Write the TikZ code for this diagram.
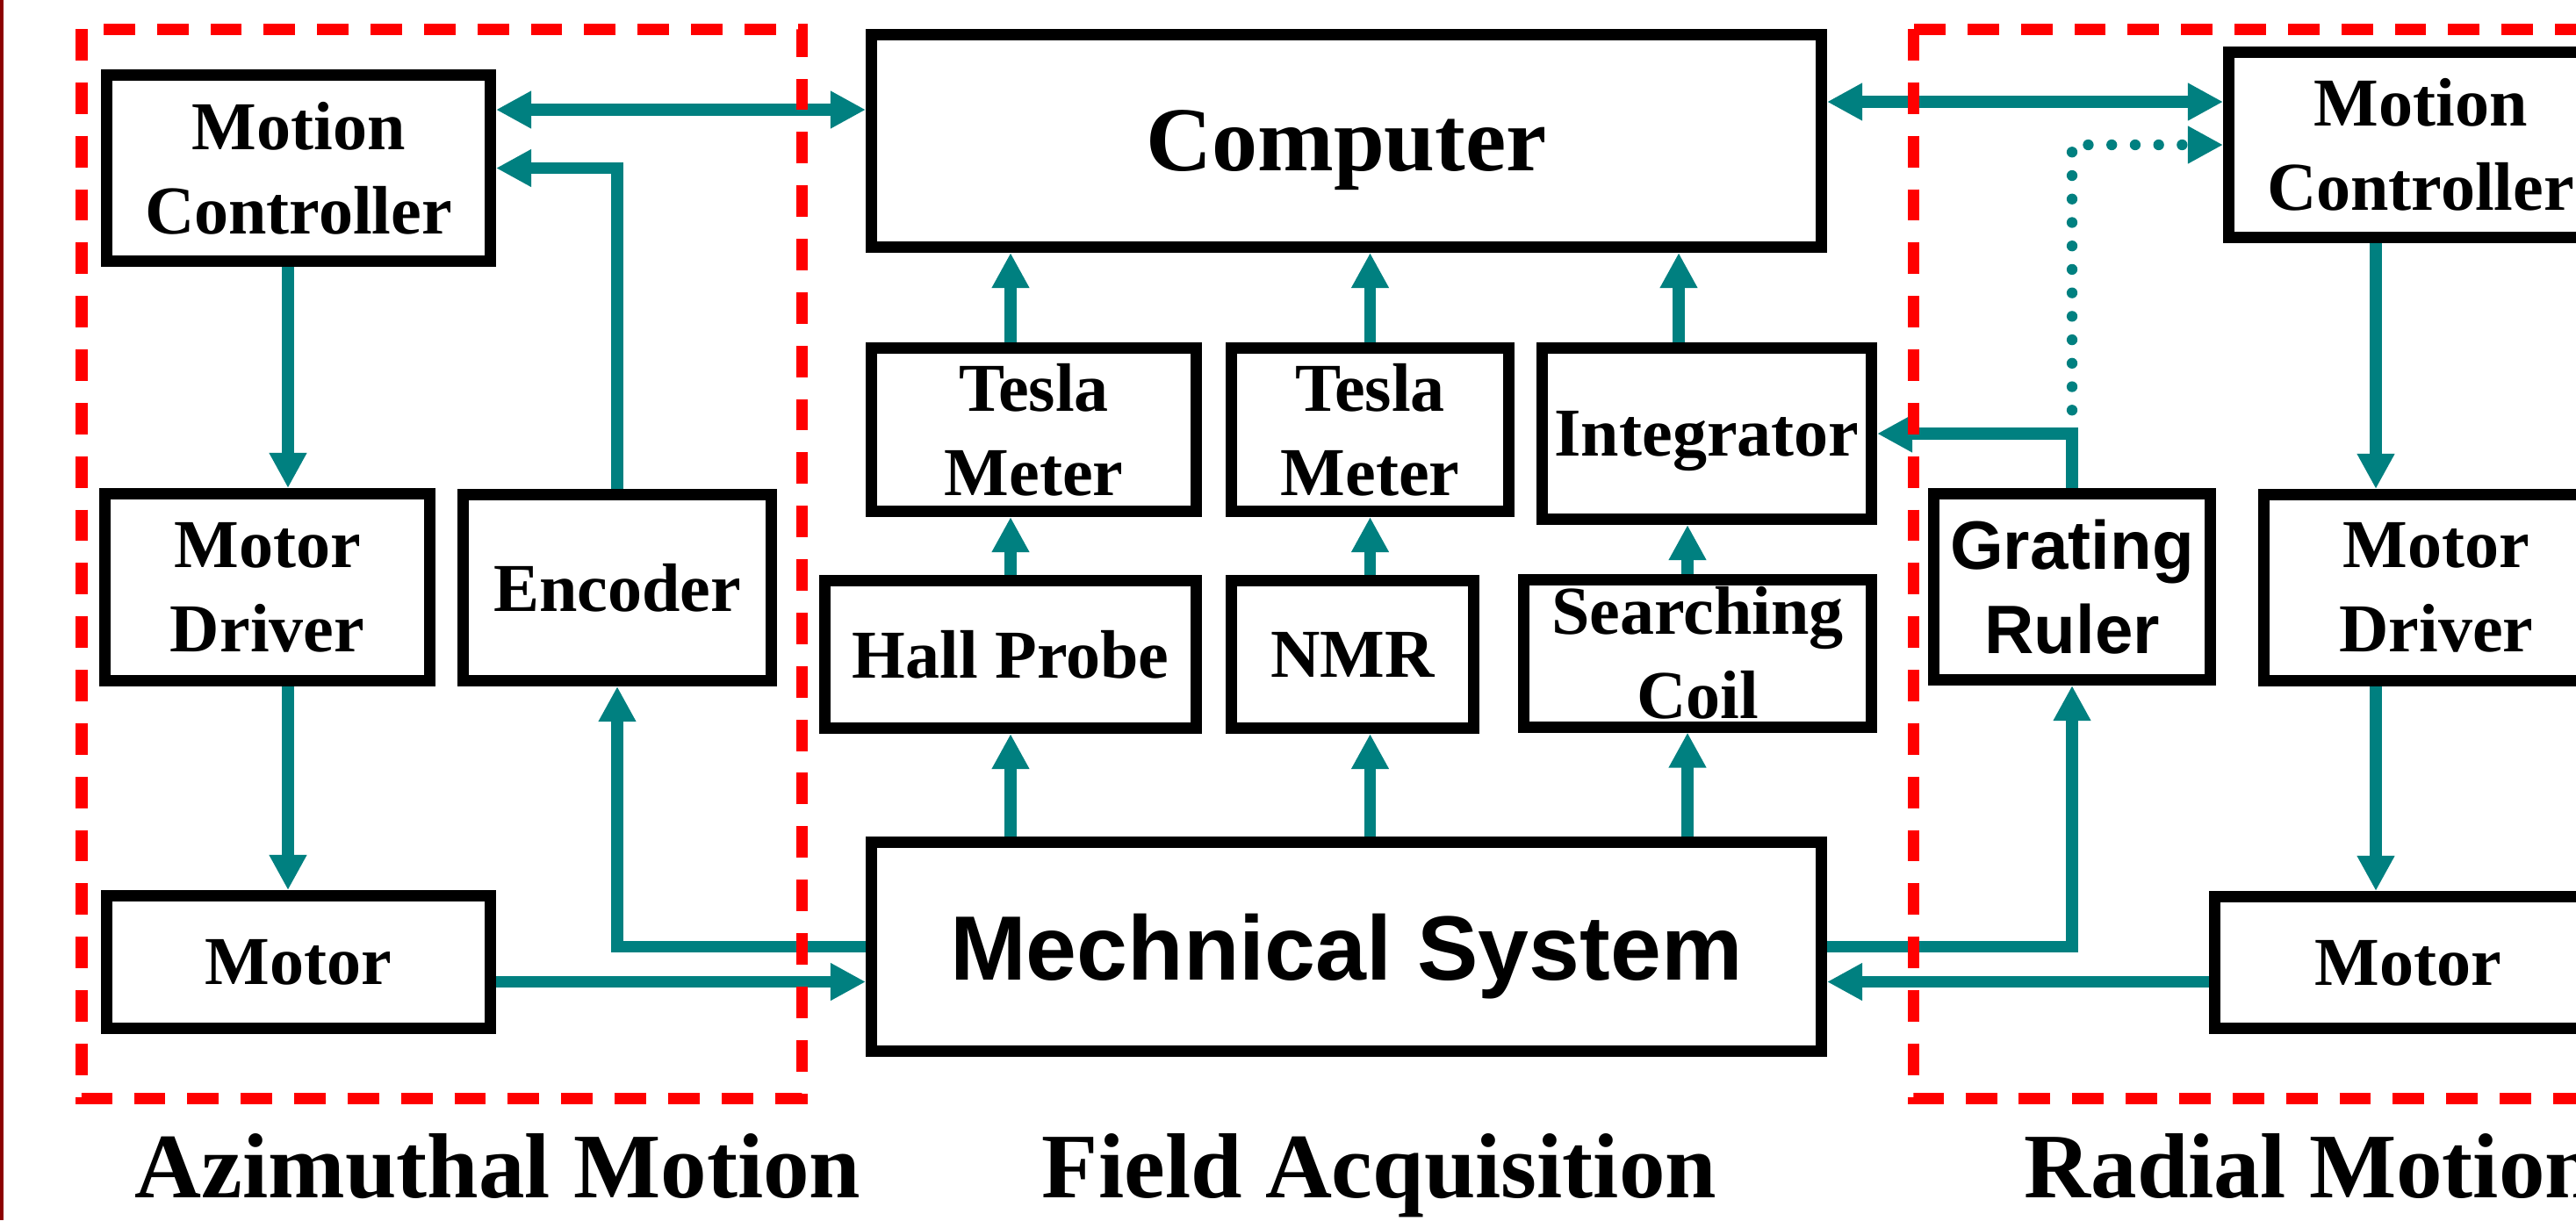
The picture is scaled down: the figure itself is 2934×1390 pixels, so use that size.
\documentclass[tikz,border=0pt]{standalone}
\usepackage{fontspec}
\setmainfont{Liberation Serif}
\newfontfamily\arialfam{Liberation Sans}
\usetikzlibrary{arrows.meta}
\definecolor{tealc}{RGB}{0,128,128}
\definecolor{redc}{RGB}{255,0,0}
\definecolor{darkredc}{RGB}{140,0,0}
\newcommand\lblfont{\fontsize{22.2pt}{27.3pt}\selectfont\bfseries}
\newcommand\bigfont{\fontsize{29.6pt}{35pt}\selectfont\bfseries}
\newcommand\sansbig{\arialfam\fontsize{29.6pt}{35pt}\selectfont\bfseries}
\newcommand\sanslbl{\arialfam\fontsize{22.2pt}{27.3pt}\selectfont\bfseries}
\newcommand\capfont{\fontsize{29.9pt}{35pt}\selectfont\bfseries}
\tikzset{
  box/.style={draw=black, line width=3.7pt, rectangle, inner sep=0pt, align=center, font=\lblfont},
  boxone/.style={box, text depth=0pt},
  sz/.style 2 args={minimum width={(#1-13)*0.01cm}, minimum height={(#2-13)*0.01cm}},
  conn/.style={draw=tealc, line width=3.9pt},
  arr/.style={conn, -{Triangle[length=11.4pt,width=11.4pt]}},
  darr/.style={conn, {Triangle[length=11.4pt,width=11.4pt]}-{Triangle[length=11.4pt,width=11.4pt]}},
  dotarr/.style={draw=tealc, line width=3.5pt, line cap=round, dash pattern=on 0pt off 7.6pt, -{Triangle[length=11.4pt,width=11.4pt]}},
  zone/.style={draw=redc, line width=3.7pt, dash pattern=on 10.2pt off 7.1pt},
  caption/.style={inner sep=0pt, font=\capfont}
}
\begin{document}
\begin{tikzpicture}[x=0.01cm, y=-0.01cm]
\useasboundingbox (0,0) rectangle (2934,1390);
\clip (0,0) rectangle (2934,1390);
\fill[white] (0,0) rectangle (2934,1390);
\fill[darkredc] (0,0) rectangle (4,1390);

% coordinates for connector levels
\coordinate (yA) at (0,125);
\coordinate (yB) at (0,116);
\coordinate (yM) at (0,1118.5);
\coordinate (xL) at (328,0);
\coordinate (xR) at (2706,0);
\coordinate (xI) at (1912,0);
\coordinate (xS) at (1922,0);

% boxes
\node[box, sz={450}{225}] (mcl) at (340,191.5) {Motion\\Controller};
\node[box, sz={383}{226}] (mdl) at (304.5,669) {Motor\\Driver};
\node[boxone, sz={364}{225}] (enc) at (703,669.5) {Encoder};
\node[boxone, sz={450}{164}] (motl) at (340,1096) {Motor};
\node[boxone, font=\bigfont, sz={1095}{255}] (comp) at (1533.5,160.5) {Computer};
\node[box, sz={383}{199}] (tm1) at (1177.5,489.5) {Tesla\\Meter};
\node[box, sz={329}{199}] (tm2) at (1560.5,489.5) {Tesla\\Meter};
\node[boxone, sz={388}{208}] (int) at (1944,494) {Integrator};
\node[boxone, sz={436}{181}] (hall) at (1151,745.5) {Hall Probe};
\node[boxone, sz={289}{181}] (nmr) at (1540.5,745.5) {NMR};
\node[box, sz={409}{181}] (sc) at (1933.5,744) {Searching\\Coil};
\node[boxone, font=\sansbig, sz={1095}{251}] (mech) at (1533.5,1078.5) {Mechnical System};
\node[box, font=\sanslbl, sz={328}{225}] (gr) at (2360,668.5) {Grating\\Ruler};
\node[box, sz={450}{224}] (mcr) at (2757,165) {Motion\\Controller};
\node[box, sz={406}{225}] (mdr) at (2775,669.5) {Motor\\Driver};
\node[boxone, sz={454}{163}] (motr) at (2743,1096.5) {Motor};

% azimuthal connectors
\draw[darr] (mcl.east |- yA) -- (comp.west |- yA);
\draw[arr] (enc.north) -- (enc.north |- mcl.east) -- (mcl.east);
\draw[arr] (mcl.south -| xL) -- (mdl.north -| xL);
\draw[arr] (mdl.south -| xL) -- (motl.north -| xL);
\draw[arr] (mech.west) -- (mech.west -| enc.south) -- (enc.south);
\draw[arr] (motl.east |- yM) -- (mech.west |- yM);

% field acquisition connectors
\draw[arr] (tm1.north -| hall) -- (comp.south -| hall);
\draw[arr] (tm2.north) -- (comp.south -| tm2);
\draw[arr] (int.north -| xI) -- (comp.south -| xI);
\draw[arr] (hall.north) -- (tm1.south -| hall);
\draw[arr] (nmr.north -| tm2) -- (tm2.south);
\draw[arr] (sc.north -| xS) -- (int.south -| xS);
\draw[arr] (mech.north -| hall) -- (hall.south);
\draw[arr] (mech.north -| tm2) -- (nmr.south -| tm2);
\draw[arr] (mech.north -| xS) -- (sc.south -| xS);

% radial connectors
\draw[darr] (comp.east |- yB) -- (mcr.west |- yB);
\draw[arr] (gr.north) -- (gr.north |- int.east) -- (int.east);
\draw[dotarr] (gr.north |- int.east) -- (gr.north |- mcr.west) -- (mcr.west);
\draw[arr] (mech.east) -- (mech.east -| gr.south) -- (gr.south);
\draw[arr] (motr.west |- yM) -- (mech.east |- yM);
\draw[arr] (mcr.south -| xR) -- (mdr.north -| xR);
\draw[arr] (mdr.south -| xR) -- (motr.north -| xR);

% dashed zones
\draw[zone] (93,33) rectangle (913,1251);
\draw[zone] (2179,33) rectangle (3200,1251);

% captions
\node[caption, anchor=base] (capA) at (567,1364) {Azimuthal Motion};
\node[caption, anchor=base] (capF) at (1571,1364) {Field Acquisition};
\node[caption, anchor=base west] (capR) at (2305,1364) {Radial Motion};
\end{tikzpicture}
\end{document}
